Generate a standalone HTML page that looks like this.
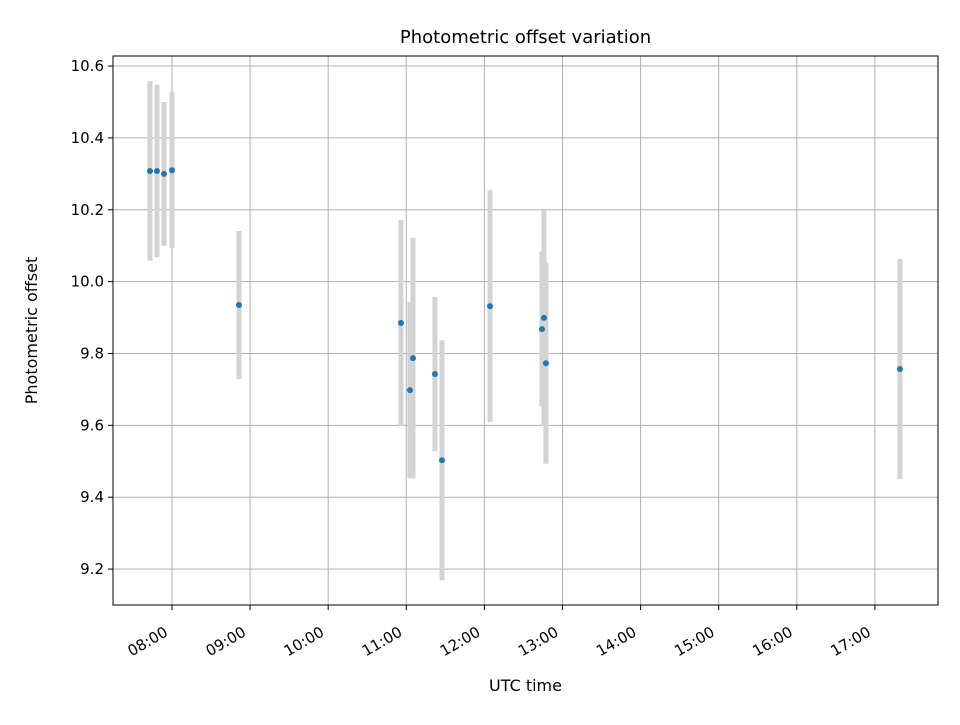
<!DOCTYPE html>
<html><head><meta charset="utf-8"><style>
body{margin:0;background:#fff;}
svg{font-family:"DejaVu Sans","Liberation Sans",sans-serif;}
</style></head><body>
<svg id="chart" width="960" height="720" xmlns="http://www.w3.org/2000/svg">
<rect width="960" height="720" fill="#fff"/>
<g id="grid"></g><g id="bars"></g><g id="pts"></g><g id="axes"></g>
</svg>
<script>
const times=[7.718,7.808,7.898,8.0,8.858,10.932,11.047,11.086,11.367,11.457,12.072,12.737,12.763,12.788,17.32];
const offsets=[10.308,10.308,10.30,10.31,9.935,9.885,9.698,9.787,9.743,9.503,9.932,9.868,9.899,9.773,9.757];
const errors=[0.25,0.24,0.2,0.217,0.206,0.287,0.245,0.335,0.215,0.334,0.323,0.216,0.3,0.28,0.306];
const xTicks=[8,9,10,11,12,13,14,15,16,17];
const xTickLabels=["08:00","09:00","10:00","11:00","12:00","13:00","14:00","15:00","16:00","17:00"];
const yTicks=[9.2,9.4,9.6,9.8,10.0,10.2,10.4,10.6];
const yTickLabels=["9.2","9.4","9.6","9.8","10.0","10.2","10.4","10.6"];
const L=113,R=938,T=56,B=605,x0=7.245,x1=17.808,y0=9.1,y1=10.628;
const X=v=>L+(v-x0)/(x1-x0)*(R-L);
const Y=v=>B-(v-y0)/(y1-y0)*(B-T);
const NS="http://www.w3.org/2000/svg";
function mk(p,t,a){const e=document.createElementNS(NS,t);for(const k in a)e.setAttribute(k,a[k]);p.appendChild(e);return e;}
const grid=document.getElementById('grid'),bars=document.getElementById('bars'),pts=document.getElementById('pts'),axes=document.getElementById('axes');
xTicks.forEach((t,i)=>{const x=X(t);
let g=mk(grid,'line',{x1:x,x2:x,y1:T,y2:B,stroke:'#b0b0b0','stroke-width':1});

mk(axes,'line',{x1:x,x2:x,y1:B,y2:B+5,stroke:'#000'});
const ax=x-3,ay=B+30;
let tx=mk(axes,'text',{x:ax,y:ay,'font-size':15,'text-anchor':'end',transform:`rotate(-30 ${ax} ${ay})`});
tx.textContent=xTickLabels[i];
});
yTicks.forEach((t,i)=>{const y=Y(t);
let g=mk(grid,'line',{x1:L,x2:R,y1:y,y2:y,stroke:'#b0b0b0','stroke-width':1});

mk(axes,'line',{x1:L-5,x2:L,y1:y,y2:y,stroke:'#000'});
let tx=mk(axes,'text',{x:L-9,y:y+5,'font-size':15,'text-anchor':'end'});
tx.textContent=yTickLabels[i];
});
times.forEach((t,i)=>{const x=X(t);
let b=mk(bars,'line',{x1:x,x2:x,y1:Y(offsets[i]+errors[i]),y2:Y(offsets[i]-errors[i]),stroke:'#d3d3d3','stroke-width':5});

let c=mk(pts,'circle',{cx:x,cy:Y(offsets[i]),r:3,fill:'#1f77b4'});
});
let fr=mk(axes,'rect',{x:L,y:T,width:R-L,height:B-T,fill:'none',stroke:'#000','stroke-width':1});

let ti=mk(axes,'text',{x:(L+R)/2,y:43,'font-size':18,'text-anchor':'middle'});ti.textContent='Photometric offset variation';

let xl=mk(axes,'text',{x:(L+R)/2,y:691,'font-size':16,'text-anchor':'middle'});xl.textContent='UTC time';

let yl=mk(axes,'text',{x:37,y:(T+B)/2,'font-size':16,'text-anchor':'middle',transform:`rotate(-90 37 ${(T+B)/2})`});yl.textContent='Photometric offset';

</script>
</body></html>
